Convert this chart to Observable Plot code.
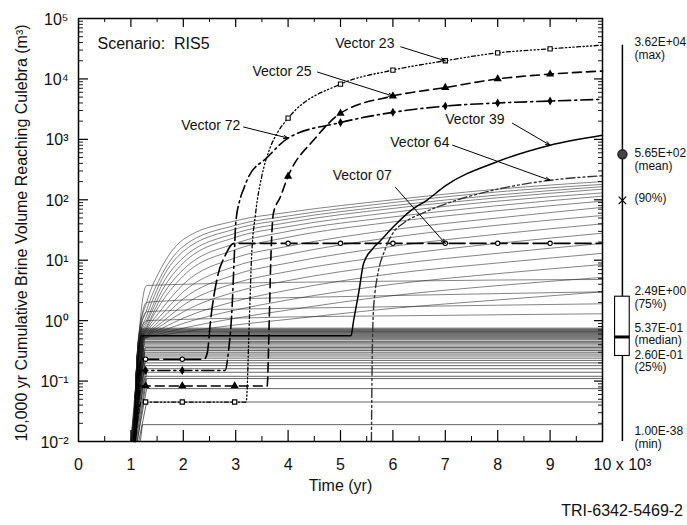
<!DOCTYPE html>
<html><head><meta charset="utf-8">
<script src="https://cdn.jsdelivr.net/npm/d3@7"></script>
<script src="https://cdn.jsdelivr.net/npm/@observablehq/plot@0.6"></script>
<style>
body{margin:0;background:#fff;font-family:"Liberation Sans",Arial,Helvetica,sans-serif;}
#chart svg{display:block;overflow:visible}
#caption{width:687px;height:25px;text-align:right;font-size:16px;line-height:22px;padding-right:4px;box-sizing:border-box;color:#111;font-family:"Liberation Sans",Arial,sans-serif}
</style></head><body>
<div id="chart"></div>
<div id="caption">TRI-6342-5469-2</div>
<script>
// ---------------- DATA ----------------
const xTickValues = [0,1,2,3,4,5,6,7,8,9];
const xTickLabels = ["0","1","2","3","4","5","6","7","8","9"];
const xLastLabel = "10 x 10³";
const yTickValues = [1e-2,1e-1,1e0,1e1,1e2,1e3,1e4,1e5];
const yTickLabels = ["10⁻²","10⁻¹","10⁰","10¹","10²","10³","10⁴","10⁵"];

// background rising curves, values at bgTimes (10^3 yr)
const bgTimes = [1.05, 1.15, 1.3, 1.6, 2, 3, 4, 6, 8, 10];
const bgRising = [
  [0.01, 0.6, 2.0, 8, 22, 45, 62, 100, 150, 200],
  [0.01, 0.55, 1.5, 6, 17, 38, 54, 90, 135, 180],
  [0.01, 0.5, 1.2, 5, 14, 33, 48, 80, 120, 165],
  [0.01, 0.5, 1.0, 4, 11, 28, 42, 72, 108, 150],
  [0.01, 0.45, 0.9, 3.2, 9, 24, 36, 62, 95, 130],
  [0.01, 0.45, 0.8, 2.6, 7, 19, 30, 52, 80, 115],
  [0.01, 0.4, 0.75, 2.1, 5.5, 15, 24, 43, 66, 95],
  [0.01, 0.4, 0.7, 1.6, 4, 11, 17, 32, 50, 75],
  [0.01, 0.4, 0.65, 1.3, 3, 8, 12.5, 24, 38, 55],
  [0.01, 0.4, 0.6, 1.1, 2.3, 5.8, 9, 17, 27, 40],
  [0.01, 0.4, 0.58, 0.95, 1.8, 4.2, 6.5, 12, 19, 28],
  [0.01, 0.4, 0.56, 0.85, 1.4, 3.0, 4.6, 8.5, 13, 19],
  [0.01, 0.4, 0.55, 0.75, 1.1, 2.1, 3.2, 6, 9, 13],
  [0.01, 0.4, 0.54, 0.68, 0.9, 1.5, 2.2, 4, 6, 8.5],
  [0.01, 0.4, 0.53, 0.62, 0.75, 1.1, 1.5, 2.6, 3.8, 5.2],
  [0.01, 0.4, 0.52, 0.58, 0.65, 0.85, 1.05, 1.6, 2.2, 3],
  [0.01, 0.5, 3.8, 3.9, 4.0, 4.2, 4.3, 4.5, 4.7, 4.8],
  [0.01, 0.5, 2.0, 2.1, 2.2, 2.3, 2.4, 2.6, 2.8, 3.0],
  [0.01, 0.5, 1.4, 1.45, 1.5, 1.55, 1.6, 1.7, 1.8, 1.9],
  [0.01, 0.5, 1.0, 1.02, 1.05, 1.1, 1.15, 1.2, 1.25, 1.3]
];

// background flat curves: level, time leaving 0.01, time reaching level
const flatLevels = [0.75,0.72,0.70,0.68,0.66,0.64,0.62,0.60,0.58,0.56,0.54,0.52,0.50,0.48,0.45,0.43,0.41,0.38,0.36,0.34,0.32,0.30,0.28,0.26,0.24,0.22,0.20,0.18,0.16,0.14,0.12,0.11,0.075,0.045,0.019];
const flatFrom  = [1.02,1.04,1.00,1.05,1.03,1.06,1.01,1.04,1.02,1.05,1.00,1.03,1.06,1.02,1.04,1.01,1.05,1.03,1.07,1.02,1.04,1.06,1.03,1.05,1.08,1.04,1.06,1.09,1.05,1.10,1.07,1.12,1.12,1.15,1.18];
const flatReach = [1.20,1.22,1.18,1.24,1.20,1.25,1.19,1.23,1.21,1.24,1.20,1.22,1.26,1.21,1.23,1.20,1.25,1.22,1.27,1.22,1.24,1.26,1.23,1.25,1.28,1.24,1.26,1.28,1.25,1.30,1.27,1.30,1.30,1.30,1.22];

// highlighted vectors
const v23T = [1.08, 1.2, 1.28, 1.98, 2.98, 3.2, 3.26, 3.3, 3.38, 3.5, 3.65, 3.8, 4, 5, 6, 7, 8, 9, 10];
const v23V = [0.01, 0.045, 0.045, 0.045, 0.045, 0.045, 1, 10, 60, 250, 700, 1300, 2240, 8200, 14000, 20000, 27000, 31500, 36200];
const v25T = [1.08, 1.2, 1.28, 1.98, 2.98, 3.6, 3.64, 3.67, 3.72, 3.85, 4, 4.5, 5, 6, 7, 8, 9, 10];
const v25V = [0.01, 0.083, 0.083, 0.083, 0.083, 0.083, 1, 10, 60, 110, 245, 1000, 2700, 5200, 7200, 10000, 12000, 13500];
const v72T = [1.08, 1.2, 1.28, 1.98, 2.8, 2.86, 2.93, 2.97, 3.0, 3.08, 3.15, 3.23, 3.6, 4, 5, 6, 7, 8, 9, 10];
const v72V = [0.01, 0.15, 0.15, 0.15, 0.15, 0.3, 1.6, 10, 40, 100, 150, 225, 500, 1050, 1900, 2800, 3550, 4000, 4300, 4600];
const v07T = [1.08, 1.2, 1.28, 1.98, 2.4, 2.46, 2.52, 2.65, 2.8, 2.96, 4, 5, 6, 7, 8, 9, 10];
const v07V = [0.01, 0.23, 0.23, 0.23, 0.23, 0.3, 1, 5.2, 12, 19, 19, 19, 19, 19, 19, 19, 19];
const v39T = [1.05, 1.2, 5.2, 5.25, 5.35, 5.44, 5.6, 5.76, 6.0, 6.34, 6.66, 7, 8, 9, 10];
const v39V = [0.01, 0.56, 0.56, 1, 3, 8.8, 15, 21, 35, 66, 100, 170, 430, 800, 1170];
const v64T = [5.59, 5.6, 5.62, 5.66, 5.7, 5.85, 6.0, 6.2, 6.6, 7, 8, 9, 10];
const v64V = [0.01, 0.1, 1, 3, 5.2, 15, 28, 41, 62, 85, 150, 210, 250];

const v23Marks = [1.28, 1.98, 2.98, 4, 5, 6, 7, 8, 9];
const v25Marks = [1.28, 1.98, 2.98, 4, 5, 6, 7, 8, 9];
const v72Marks = [1.28, 1.98, 5, 6, 7, 8, 9];
const v07Marks = [1.28, 1.98, 4, 5, 6, 7, 8, 9];

// annotations
const annLabels = ["Vector 23","Vector 25","Vector 72","Vector 39","Vector 64","Vector 07"];
const annTextT  = [4.9, 3.32, 3.09, 7.0, 5.95, 4.85];
const annTextV  = [39000, 13500, 1700, 2100, 890, 250];
const annFromT  = [6.15, 4.56, 3.15, 8.28, 7.14, 6.05];
const annFromV  = [34000, 13000, 1600, 1850, 800, 160];
const annToT    = [7, 6, 4, 9, 9, 7];
const annToV    = [20000, 5200, 1050, 800, 210, 19];

// summary statistics (right side)
const statNames  = ["max","mean","90%","75%","median","25%","min"];
const statValues = [3.62e4, 5.65e2, 98, 2.49, 0.537, 0.26, 1e-38];
const statLabels = ["3.62E+04\n(max)","5.65E+02\n(mean)","(90%)","2.49E+00\n(75%)","5.37E-01\n(median)","2.60E-01\n(25%)","1.00E-38\n(min)"];

// ---------------- LAYOUT / STYLE ----------------
const W = 687, H = 500;
const M = {left: 78, right: 85, top: 18, bottom: 59};
const plotW = W - M.left - M.right;
const plotH = H - M.top - M.bottom;
const yMin = 0.01, yMax = 1e5;
const boxX = 10.38, boxHalf = 0.14;
const statDy = [3, 5, -2, 1, -3, 5, -4];
const annAnchor = ["start","start","end","start","start","start"];

// ---------------- BUILD ----------------
const bgData = bgRising.flatMap((vals, i) => vals.map((v, j) => ({id: "r" + i, t: bgTimes[j], v})));
const flatData = flatLevels.flatMap((lv, i) => [
  {id: "f" + i, t: flatFrom[i], v: 0.01},
  {id: "f" + i, t: flatReach[i], v: lv},
  {id: "f" + i, t: 10, v: lv}
]);
const toPts = (T, V) => T.map((t, i) => ({t, v: V[i]}));
const markPts = (T, V, Mk) => toPts(T, V).filter(d => Mk.includes(d.t));
const v23 = toPts(v23T, v23V), v25 = toPts(v25T, v25V), v72 = toPts(v72T, v72V);
const v07 = toPts(v07T, v07V), v39 = toPts(v39T, v39V), v64 = toPts(v64T, v64V);
const ann = annLabels.map((l, i) => ({l, tx: annTextT[i], ty: annTextV[i], fx: annFromT[i], fy: annFromV[i], x2: annToT[i], y2: annToV[i], a: annAnchor[i]}));
const stats = statNames.map((n, i) => ({n, v: statValues[i], y: Math.max(statValues[i], yMin), label: statLabels[i], dy: statDy[i]}));
const S = Object.fromEntries(stats.map(d => [d.n, d]));

const xMinor = d3.range(0.5, 10, 1);
const xMajor = xTickValues.slice(1);
const yMajor = yTickValues.slice(1, -1);
const yMinor = [];
for (let e = -2; e < 5; e++) for (let m = 2; m < 10; m++) yMinor.push(m * Math.pow(10, e));

const hl = {stroke: "black", strokeWidth: 1.4, curve: "monotone-x"};

const chart = Plot.plot({
  width: W, height: H,
  marginLeft: M.left, marginRight: M.right, marginTop: M.top, marginBottom: M.bottom,
  x: {domain: [0, 10], axis: null},
  y: {type: "log", domain: [yMin, yMax], axis: null},
  style: {fontFamily: "'Liberation Sans', Arial, Helvetica, sans-serif", fontSize: "14px", background: "white", color: "black"},
  marks: [
    // background curves
    Plot.line(flatData, {x: "t", y: "v", z: "id", stroke: "#1a1a1a", strokeWidth: 0.8, strokeOpacity: 0.85}),
    Plot.line(bgData, {x: "t", y: "v", z: "id", stroke: "#222", strokeWidth: 0.7, strokeOpacity: 0.8, curve: "monotone-x"}),
    // highlighted vectors
    Plot.line(v23, {x: "t", y: "v", ...hl, strokeWidth: 1.3, strokeDasharray: "4,2.5,1.2,2.5,1.2,2.5,1.2,2.5"}),
    Plot.line(v25, {x: "t", y: "v", ...hl, strokeWidth: 1.6, strokeDasharray: "9,5"}),
    Plot.line(v72, {x: "t", y: "v", ...hl, strokeWidth: 1.6, strokeDasharray: "12,4,2,4"}),
    Plot.line(v07, {x: "t", y: "v", ...hl, strokeWidth: 1.6, strokeDasharray: "16,5"}),
    Plot.line(v39, {x: "t", y: "v", ...hl, strokeWidth: 1.5}),
    Plot.line(v64, {x: "t", y: "v", ...hl, stroke: "#333", strokeWidth: 1.4, strokeDasharray: "9,3,2,3,2,3"}),
    // markers
    Plot.dot(markPts(v23T, v23V, v23Marks), {x: "t", y: "v", symbol: "square", r: 2.4, fill: "white", stroke: "black", strokeWidth: 1.1}),
    Plot.dot(markPts(v25T, v25V, v25Marks), {x: "t", y: "v", symbol: "triangle", r: 2.1, fill: "black", stroke: "black"}),
    Plot.dot(markPts(v72T, v72V, v72Marks), {x: "t", y: "v", symbol: "diamond", r: 1.8, fill: "black", stroke: "black"}),
    Plot.dot(markPts(v07T, v07V, v07Marks), {x: "t", y: "v", symbol: "circle", r: 2.2, fill: "white", stroke: "black", strokeWidth: 1.1}),
    // frame & ticks
    Plot.frame({stroke: "black", strokeWidth: 1.5}),
    Plot.tickX(xMajor, {x: d => d, insetTop: plotH - 11, stroke: "black", strokeWidth: 1.2}),
    Plot.tickX(xMinor, {x: d => d, insetTop: plotH - 5, stroke: "black", strokeWidth: 1}),
    Plot.tickX(xMajor, {x: d => d, insetBottom: plotH - 9, stroke: "black", strokeWidth: 1.2}),
    Plot.tickX(xMinor, {x: d => d, insetBottom: plotH - 4, stroke: "black", strokeWidth: 1}),
    Plot.tickY(yMajor, {y: d => d, insetRight: plotW - 10, stroke: "black", strokeWidth: 1.2}),
    Plot.tickY(yMinor, {y: d => d, insetRight: plotW - 5, stroke: "black", strokeWidth: 0.9}),
    Plot.tickY(yMajor, {y: d => d, insetLeft: plotW - 8, stroke: "black", strokeWidth: 1.2}),
    Plot.tickY(yMinor, {y: d => d, insetLeft: plotW - 4, stroke: "black", strokeWidth: 0.9}),
    // tick labels
    Plot.text(yTickValues.map((v, i) => ({v, l: yTickLabels[i]})), {x: 0, y: "v", text: "l", textAnchor: "end", dx: -10, dy: 1, fontSize: 16, fill: "#111"}),
    Plot.text(xTickValues.map((t, i) => ({t, l: xTickLabels[i]})), {x: "t", y: yMin, text: "l", dy: 23, fontSize: 16, fill: "#111"}),
    Plot.text([xLastLabel], {x: 10, y: yMin, text: d => d, textAnchor: "start", dx: -9, dy: 23, fontSize: 16, fill: "#111"}),
    // axis titles
    Plot.text(["Time (yr)"], {frameAnchor: "bottom", text: d => d, textAnchor: "middle", lineAnchor: "middle", dy: 44, fontSize: 16, fill: "#111"}),
    Plot.text(["10,000 yr Cumulative Brine Volume Reaching Culebra (m³)"], {frameAnchor: "left", text: d => d, textAnchor: "middle", lineAnchor: "middle", rotate: -90, dx: -57, dy: 3, fontSize: 16, fill: "#111"}),
    Plot.text(["Scenario:  RIS5"], {frameAnchor: "top-left", text: d => d, textAnchor: "start", lineAnchor: "middle", dx: 19, dy: 25, fontSize: 16, fill: "#111"}),
    // annotations
    Plot.arrow(ann, {x1: "fx", y1: "fy", x2: "x2", y2: "y2", stroke: "black", strokeWidth: 1, headLength: 7, headAngle: 40}),
    Plot.text(ann.filter(d => d.a === "start"), {x: "tx", y: "ty", text: "l", textAnchor: "start", fontSize: 14, fill: "#111"}),
    Plot.text(ann.filter(d => d.a === "end"), {x: "tx", y: "ty", text: "l", textAnchor: "end", fontSize: 14, fill: "#111"}),
    // summary box plot
    Plot.ruleX([S.max], {x: () => boxX, y1: "y", y2: () => S.min.y, stroke: "black", strokeWidth: 1.5}),
    Plot.rect([S["75%"]], {x1: () => boxX - boxHalf, x2: () => boxX + boxHalf, y1: () => S["25%"].y, y2: () => S["75%"].y, fill: "white", stroke: "black", strokeWidth: 1.1}),
    Plot.ruleY([S.median], {y: "y", x1: () => boxX - boxHalf, x2: () => boxX + boxHalf, stroke: "black", strokeWidth: 3}),
    Plot.dot([S.mean], {x: () => boxX, y: "y", r: 4.5, fill: "#444", stroke: "#222"}),
    Plot.dot([S["90%"]], {x: () => boxX, y: "y", symbol: "times", r: 3.5, stroke: "black", strokeWidth: 1.2}),
    ...stats.map(d => Plot.text([d], {x: () => boxX, y: "y", text: "label", dy: d.dy, dx: 12, textAnchor: "start", lineAnchor: "middle", lineHeight: 1.05, fontSize: 12, fill: "#111"}))
  ]
});
document.getElementById("chart").appendChild(chart);
</script>
</body></html>
